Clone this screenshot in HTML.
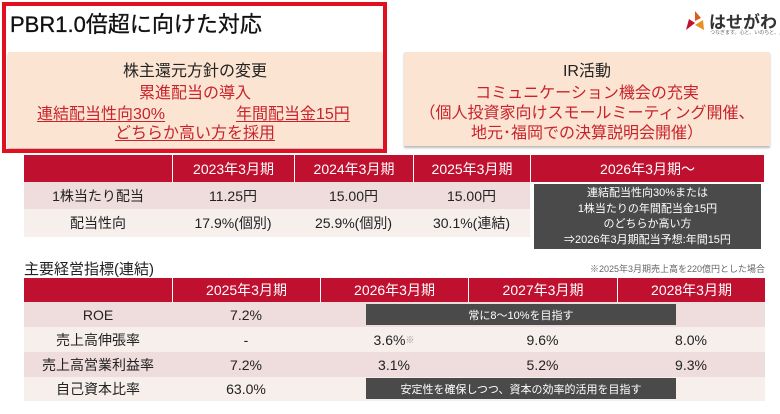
<!DOCTYPE html>
<html><head><meta charset="utf-8"><style>
*{margin:0;padding:0;box-sizing:border-box}
body{width:780px;height:414px;background:#fff;position:relative;overflow:hidden;font-family:"Liberation Sans","Noto Sans CJK JP",sans-serif;color:#222}
.a{position:absolute;white-space:nowrap}
.c{position:absolute;display:flex;align-items:center;justify-content:center;white-space:nowrap}
.red{color:#c8232c}
.u{text-decoration:underline;text-underline-offset:2px}
.h{background:#c0102f;color:#fff;font-size:14px}
.p1{background:#efdcdc}
.p2{background:#f6efec}
.dk{background:#4a4a4a;color:#fff}
</style></head><body>
<div class="a" style="left:8px;top:52px;width:374px;height:96px;background:#fbe4d2;box-shadow:0 2px 2px #bbb"></div>
<div class="a" style="left:2px;top:2px;width:385px;height:151px;border:4px solid #e0101e"></div>
<div class="a" style="left:10px;top:7px;font-size:22px;color:#111;-webkit-text-stroke:0.3px #111">PBR1.0倍超に向けた対応</div>
<div class="c" style="left:8px;top:58px;width:374px;height:22px;font-size:16px">株主還元方針の変更</div>
<div class="c red" style="left:8px;top:80px;width:374px;height:22px;font-size:16px">累進配当の導入</div>
<div class="a red u" style="left:37px;top:100px;font-size:16px">連結配当性向30%</div>
<div class="a red u" style="left:236px;top:100px;font-size:16px">年間配当金15円</div>
<div class="c red u" style="left:8px;top:120px;width:374px;height:22px;font-size:16px">どちらか高い方を採用</div>

<div class="a" style="left:404px;top:52px;width:366px;height:94px;background:#fbe4d2;box-shadow:0 2px 2px #bbb"></div>
<div class="c" style="left:404px;top:58px;width:366px;height:22px;font-size:16px">IR活動</div>
<div class="c red" style="left:404px;top:80px;width:366px;height:22px;font-size:16px">コミュニケーション機会の充実</div>
<div class="c red" style="left:404px;top:100px;width:366px;height:22px;font-size:16px">（個人投資家向けスモールミーティング開催、</div>
<div class="c red" style="left:404px;top:120px;width:366px;height:22px;font-size:16px">地元･福岡での決算説明会開催）</div>

<svg class="a" style="left:683px;top:10px" width="24" height="22" viewBox="0 0 24 22"><path d="M12 1 L18 8 L12 11Z" fill="#e05a1a"/><path d="M3 20 L6 9 L12 13Z" fill="#c0102f"/><path d="M21 20 L12 15 L20 10Z" fill="#e89020"/></svg>
<div class="a" style="left:709px;top:8px;font-size:17px;font-weight:bold;color:#333">はせがわ</div>
<div class="a" style="left:710px;top:29px;font-size:5px;color:#666">つなぎます。心と、いのちと、人。</div>

<!-- table 1 -->
<div class="a h" style="left:24px;top:155px;width:740px;height:27px"></div>
<div class="c h" style="left:172px;top:155px;width:122px;height:27px;border-left:1px solid #fff">2023年3月期</div>
<div class="c h" style="left:294px;top:155px;width:119px;height:27px;border-left:1px solid #fff">2024年3月期</div>
<div class="c h" style="left:413px;top:155px;width:117px;height:27px;border-left:1px solid #fff">2025年3月期</div>
<div class="c h" style="left:530px;top:155px;width:234px;height:27px;border-left:1px solid #fff">2026年3月期～</div>
<div class="a p1" style="left:24px;top:182px;width:506px;height:27px"></div>
<div class="a p2" style="left:24px;top:209px;width:506px;height:28px"></div>
<div class="c" style="left:24px;top:182px;width:148px;height:27px;font-size:14px">1株当たり配当</div>
<div class="c" style="left:172px;top:182px;width:122px;height:27px;font-size:14px">11.25円</div>
<div class="c" style="left:294px;top:182px;width:119px;height:27px;font-size:14px">15.00円</div>
<div class="c" style="left:413px;top:182px;width:117px;height:27px;font-size:14px">15.00円</div>
<div class="c" style="left:24px;top:209px;width:148px;height:28px;font-size:14px">配当性向</div>
<div class="c" style="left:172px;top:209px;width:122px;height:28px;font-size:14px">17.9%(個別)</div>
<div class="c" style="left:294px;top:209px;width:119px;height:28px;font-size:14px">25.9%(個別)</div>
<div class="c" style="left:413px;top:209px;width:117px;height:28px;font-size:14px">30.1%(連結)</div>
<div class="a dk" style="left:534px;top:184px;width:227px;height:65px;font-size:11px;line-height:15.5px;text-align:center;padding-top:2px">連結配当性向30%または<br>1株当たりの年間配当金15円<br>のどちらか高い方<br>⇒2026年3月期配当予想:年間15円</div>

<div class="a" style="left:24px;top:258px;font-size:15px">主要経営指標(連結)</div>
<div class="a" style="right:15px;top:262px;font-size:9px;color:#666">※2025年3月期売上高を220億円とした場合</div>

<!-- table 2 -->
<div class="a h" style="left:24px;top:278px;width:741px;height:24px"></div>
<div class="c h" style="left:172px;top:278px;width:148px;height:24px;border-left:1px solid #fff">2025年3月期</div>
<div class="c h" style="left:320px;top:278px;width:148px;height:24px;border-left:1px solid #fff">2026年3月期</div>
<div class="c h" style="left:468px;top:278px;width:149px;height:24px;border-left:1px solid #fff">2027年3月期</div>
<div class="c h" style="left:617px;top:278px;width:148px;height:24px;border-left:1px solid #fff">2028年3月期</div>
<div class="a p1" style="left:24px;top:302px;width:741px;height:25px"></div>
<div class="a p2" style="left:24px;top:327px;width:741px;height:25px"></div>
<div class="a p1" style="left:24px;top:352px;width:741px;height:25px"></div>
<div class="a p2" style="left:24px;top:377px;width:741px;height:24px"></div>
<div class="c" style="left:24px;top:302px;width:148px;height:25px;font-size:14px">ROE</div>
<div class="c" style="left:172px;top:302px;width:148px;height:25px;font-size:14px">7.2%</div>
<div class="c dk" style="left:366px;top:304px;width:310px;height:21px;font-size:11px">常に8～10%を目指す</div>
<div class="c" style="left:24px;top:327px;width:148px;height:25px;font-size:14px">売上高伸張率</div>
<div class="c" style="left:172px;top:327px;width:148px;height:25px;font-size:14px">-</div>
<div class="c" style="left:320px;top:327px;width:148px;height:25px;font-size:14px">3.6%<span style="font-size:9px;color:#999">※</span></div>
<div class="c" style="left:468px;top:327px;width:149px;height:25px;font-size:14px">9.6%</div>
<div class="c" style="left:617px;top:327px;width:148px;height:25px;font-size:14px">8.0%</div>
<div class="c" style="left:24px;top:352px;width:148px;height:25px;font-size:14px">売上高営業利益率</div>
<div class="c" style="left:172px;top:352px;width:148px;height:25px;font-size:14px">7.2%</div>
<div class="c" style="left:320px;top:352px;width:148px;height:25px;font-size:14px">3.1%</div>
<div class="c" style="left:468px;top:352px;width:149px;height:25px;font-size:14px">5.2%</div>
<div class="c" style="left:617px;top:352px;width:148px;height:25px;font-size:14px">9.3%</div>
<div class="c" style="left:24px;top:377px;width:148px;height:24px;font-size:14px">自己資本比率</div>
<div class="c" style="left:172px;top:377px;width:148px;height:24px;font-size:14px">63.0%</div>
<div class="c dk" style="left:366px;top:378px;width:310px;height:21px;font-size:11px">安定性を確保しつつ、資本の効率的活用を目指す</div>
</body></html>
